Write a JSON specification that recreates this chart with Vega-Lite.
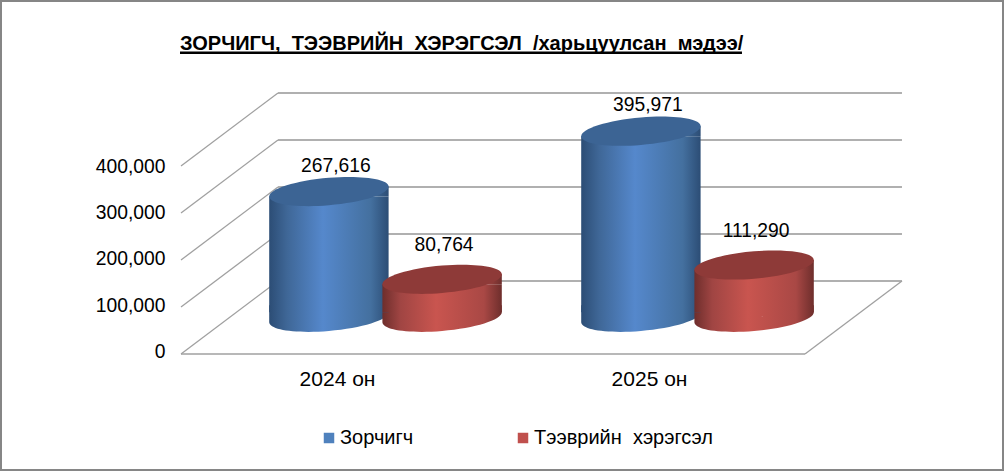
{
"$schema":"https://vega.github.io/schema/vega-lite/v6.json",
"width":1004,"height":471,
"autosize":{"type":"fit","contains":"padding"},
"padding":0,
"background":"#ffffff",
"config":{"view":{"stroke":"#868686","strokeWidth":4},"font":"Liberation Sans"},
"datasets":{
"bars":[
{"year":"2024 он","series":"Зорчигч","value":267616},
{"year":"2025 он","series":"Зорчигч","value":395971},
{"year":"2024 он","series":"Тээврийн\u00a0 хэрэгсэл","value":80764},
{"year":"2025 он","series":"Тээврийн\u00a0 хэрэгсэл","value":111290}],
"grid":[
{"value":0,"wall":155319},
{"value":100000,"wall":255319},
{"value":200000,"wall":355319},
{"value":300000,"wall":455319},
{"value":400000,"wall":555319}],
"heading":[{"text":"ЗОРЧИГЧ,\u00a0 ТЭЭВРИЙН\u00a0 ХЭРЭГСЭЛ\u00a0 /харьцуулсан\u00a0 мэдээ/","at":-0.0016,"level":647872,"lineEnd":0.899,"lineLevel":641064}]
},
"layer":[
{"data":{"name":"grid"},
"layer":[
{"mark":{"type":"rule","color":"#969696","strokeWidth":1.6},
"encoding":{
"x":{"datum":0.1554,"type":"quantitative","axis":null,"scale":{"domain":[0,1],"range":[181,805],"nice":false,"zero":false}},
"x2":{"datum":1.1554},
"y":{"field":"wall","type":"quantitative","axis":null,"scale":{"domain":[0,400000],"range":[354,166],"nice":false,"zero":false}}}},
{"mark":{"type":"rule","color":"#a0a0a0","strokeWidth":1.3},
"encoding":{
"x":{"datum":0,"type":"quantitative","axis":null},
"x2":{"datum":0.1554},
"y":{"field":"value","type":"quantitative","axis":null},
"y2":{"field":"wall"}}},
{"transform":[{"filter":"datum.value===0"}],
"mark":{"type":"rule","color":"#a0a0a0","strokeWidth":1.6},
"encoding":{
"x":{"datum":0,"type":"quantitative","axis":null},
"x2":{"datum":1},
"y":{"field":"value","type":"quantitative","axis":null}}},
{"transform":[{"filter":"datum.value===0"}],
"mark":{"type":"rule","color":"#a0a0a0","strokeWidth":1.3},
"encoding":{
"x":{"datum":1,"type":"quantitative","axis":null},
"x2":{"datum":1.1554},
"y":{"field":"value","type":"quantitative","axis":null},
"y2":{"field":"wall"}}},
{"data":{"name":"heading"},
"mark":{"type":"rule","color":"#000000","strokeWidth":2.4},
"encoding":{
"x":{"field":"at","type":"quantitative","axis":null},
"x2":{"field":"lineEnd"},
"y":{"field":"lineLevel","type":"quantitative","axis":null}}},
{"data":{"name":"heading"},
"mark":{"type":"text","align":"left","baseline":"alphabetic","fontWeight":"bold","fontSize":20,"color":"#000000"},
"encoding":{
"x":{"field":"at","type":"quantitative","axis":null},
"y":{"field":"level","type":"quantitative","axis":null},
"text":{"field":"text"}}}
]},
{"data":{"name":"bars"},
"mark":{"type":"point","size":0,"filled":true},
"encoding":{
"x":{"field":"year","type":"nominal","title":null,"scale":{"domain":["2024 он","2025 он"],"range":[181,805],"paddingInner":0,"paddingOuter":0},
"axis":{"orient":"bottom","offset":-107,"domain":false,"ticks":false,"grid":false,"labelAngle":0,"labelFont":"Liberation Sans","labelFontSize":21,"labelColor":"#000000","labelPadding":4}},
"y":{"field":"value","type":"quantitative","title":null,"scale":{"domain":[0,400000],"range":[351.5,166],"nice":false,"zero":false},
"axis":{"orient":"left","offset":-170,"values":[0,100000,200000,300000,400000],"format":",.0f","domain":false,"ticks":false,"grid":false,"labelFont":"Liberation Sans","labelFontSize":19.3,"labelColor":"#000000","labelPadding":5}},
"fill":{"field":"series","type":"nominal","scale":{"domain":["Зорчигч","Тээврийн\u00a0 хэрэгсэл"],"range":["#4f81bd","#c0504d"]},
"legend":{"orient":"none","legendX":319,"legendY":428,"direction":"horizontal","columns":2,"columnPadding":99,"title":null,"symbolType":"square","symbolSize":110,"symbolStrokeWidth":0,"symbolOpacity":1,"labelFont":"Liberation Sans","labelFontSize":20,"labelColor":"#000000","labelOffset":1,"labelLimit":300,"padding":0}}}},
{"data":{"name":"bars"},
"encoding":{
"x":{"field":"year","type":"nominal","axis":null,"scale":{"domain":["2024 он","2025 он"],"range":[385.5,1009.5],"paddingInner":0,"paddingOuter":0}},
"xOffset":{"field":"series","type":"nominal","scale":{"type":"point","padding":0,"domain":["Зорчигч","Тээврийн\u00a0 хэрэгсэл"],"range":[-56.6,56.6]}},
"y":{"field":"value","type":"quantitative","axis":null,"stack":null,"scale":{"domain":[0,400000],"range":[317.3,129.3],"nice":false,"zero":false}}
},
"layer":[
{"mark":{"type":"point","filled":true,"opacity":1,"strokeWidth":0,"size":14256,"shape":"M1,-0.0833C1,0.0437,0.5523,0.184,0,0.23C-0.5523,0.276,-1,0.2103,-1,0.0833C-1,-0.0437,-0.5523,-0.184,0,-0.23C0.5523,-0.276,1,-0.2103,1,-0.0833ZM-1,-0.2L1,-0.2L1,-0.0833L-1,0.0833Z"},
"encoding":{"y":{"datum":0,"type":"quantitative","axis":null},
"fill":{"condition":{"test":"datum.series==='Зорчигч'","value":{"gradient":"linear","x1":0,"y1":0,"x2":1,"y2":0,"stops":[{"offset":0,"color":"#2c4d75"},{"offset":0.15,"color":"#3f6797"},{"offset":0.45,"color":"#5588cc"},{"offset":0.85,"color":"#44709f"},{"offset":1,"color":"#2c4d75"}]}},"value":{"gradient":"linear","x1":0,"y1":0,"x2":1,"y2":0,"stops":[{"offset":0,"color":"#6e2e2c"},{"offset":0.15,"color":"#a04543"},{"offset":0.45,"color":"#c9554f"},{"offset":0.85,"color":"#a94845"},{"offset":1,"color":"#6e2e2c"}]}}}},
{"mark":{"type":"bar","width":119.4,"yOffset":5,"y2Offset":-5},
"encoding":{
"y2":{"datum":0},
"fill":{"condition":{"test":"datum.series==='Зорчигч'","value":{"gradient":"linear","x1":0,"y1":0,"x2":1,"y2":0,"stops":[{"offset":0,"color":"#2c4d75"},{"offset":0.15,"color":"#3f6797"},{"offset":0.45,"color":"#5588cc"},{"offset":0.85,"color":"#44709f"},{"offset":1,"color":"#2c4d75"}]}},"value":{"gradient":"linear","x1":0,"y1":0,"x2":1,"y2":0,"stops":[{"offset":0,"color":"#6e2e2c"},{"offset":0.15,"color":"#a04543"},{"offset":0.45,"color":"#c9554f"},{"offset":0.85,"color":"#a94845"},{"offset":1,"color":"#6e2e2c"}]}}}},
{"mark":{"type":"point","filled":true,"opacity":1,"strokeWidth":0,"size":14256,"shape":"M-1,0.0833L1,-0.0833L1,0.0833L-1,0.0833Z"},
"encoding":{
"fill":{"condition":{"test":"datum.series==='Зорчигч'","value":{"gradient":"linear","x1":0,"y1":0,"x2":1,"y2":0,"stops":[{"offset":0,"color":"#2c4d75"},{"offset":0.15,"color":"#3f6797"},{"offset":0.45,"color":"#5588cc"},{"offset":0.85,"color":"#44709f"},{"offset":1,"color":"#2c4d75"}]}},"value":{"gradient":"linear","x1":0,"y1":0,"x2":1,"y2":0,"stops":[{"offset":0,"color":"#6e2e2c"},{"offset":0.15,"color":"#a04543"},{"offset":0.45,"color":"#c9554f"},{"offset":0.85,"color":"#a94845"},{"offset":1,"color":"#6e2e2c"}]}}}},
{"mark":{"type":"point","filled":true,"opacity":1,"strokeWidth":0,"size":14256,"shape":"M1,-0.0833C1,0.0437,0.5523,0.184,0,0.23C-0.5523,0.276,-1,0.2103,-1,0.0833C-1,-0.0437,-0.5523,-0.184,0,-0.23C0.5523,-0.276,1,-0.2103,1,-0.0833Z"},
"encoding":{
"fill":{"condition":{"test":"datum.series==='Зорчигч'","value":"#3c6494"},"value":"#8e3a38"}}},
{"transform":[{"filter":"datum.series==='Зорчигч'"}],
"mark":{"type":"text","dx":7,"dy":-26,"fontSize":19.3,"font":"Liberation Sans","color":"#000000"},
"encoding":{"text":{"field":"value","type":"quantitative","format":","}}},
{"transform":[{"filter":"datum.series!=='Зорчигч'"}],
"mark":{"type":"text","dx":2,"dy":-34,"fontSize":19.3,"font":"Liberation Sans","color":"#000000"},
"encoding":{"text":{"field":"value","type":"quantitative","format":","}}}
]}
],
"resolve":{"scale":{"x":"independent","y":"independent"}}
}
